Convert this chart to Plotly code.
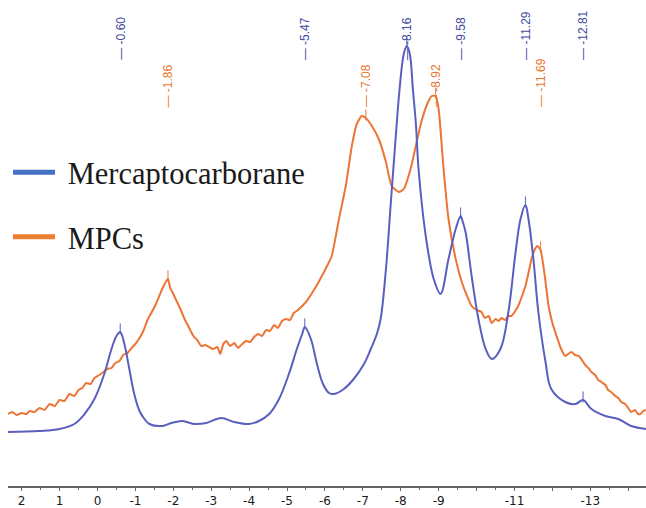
import numpy as np
import plotly.graph_objects as go

# ---- data (chemical shift in ppm, intensity in arbitrary units) ----
mc_ppm = [2.36, 1.53, 1.00, 0.61, 0.34, 0.08, -0.18, -0.37, -0.50, -0.60, -0.71, -0.84, -0.97,
          -1.11, -1.24, -1.37, -1.71, -1.95, -2.24, -2.55, -2.87, -3.26, -3.61, -4.00, -4.26,
          -4.53, -4.79, -5.05, -5.26, -5.40, -5.47, -5.63, -5.79, -5.95, -6.11, -6.24, -6.50,
          -6.76, -7.03, -7.21, -7.37, -7.47, -7.61, -7.74, -7.87, -7.97, -8.08, -8.16, -8.24,
          -8.32, -8.40, -8.47, -8.66, -8.87, -9.05, -9.26, -9.45, -9.58, -9.63, -9.71, -9.87,
          -10.05, -10.24, -10.40, -10.63, -10.84, -11.03, -11.16, -11.29, -11.37, -11.50,
          -11.63, -11.82, -11.97, -12.34, -12.61, -12.81, -13.03, -13.40, -13.74, -14.08, -14.47]
mc_int = [54, 55, 57, 62, 72, 87, 112, 137, 150, 154, 142, 117, 92,
          75, 67, 62, 60, 63, 65, 62, 63, 68, 64, 62, 65,
          72, 87, 112, 137, 152, 159, 147, 122, 102, 93, 92, 97,
          107, 122, 137, 152, 167, 217, 284, 350, 397, 432, 440, 432,
          397, 362, 317, 250, 207, 192, 227, 257, 270, 265, 254, 210,
          167, 137, 127, 137, 174, 234, 267, 281, 267, 227,
          174, 124, 97, 84, 82, 86, 77, 70, 67, 60, 57]

mpc_ppm = [2.36, 2.25, 2.13, 2.00, 1.87, 1.79, 1.66, 1.53, 1.40, 1.26, 1.13, 1.00, 0.87, 0.74,
           0.61, 0.50, 0.40, 0.30, 0.18, 0.08, -0.05, -0.16, -0.26, -0.37, -0.47, -0.58, -0.68,
           -0.79, -0.90, -1.00, -1.11, -1.21, -1.32, -1.42, -1.53, -1.63, -1.72, -1.80, -1.86,
           -1.92, -2.00, -2.10, -2.20, -2.31, -2.42, -2.53, -2.63, -2.74, -2.84, -2.95, -3.05,
           -3.16, -3.24, -3.32, -3.40, -3.50, -3.61, -3.71, -3.82, -3.92, -4.03, -4.13, -4.24,
           -4.34, -4.45, -4.55, -4.66, -4.76, -4.87, -4.97, -5.08, -5.18, -5.29, -5.40, -5.50,
           -5.61, -5.71, -5.82, -5.92, -6.03, -6.18, -6.37, -6.55, -6.71, -6.84, -6.97, -7.08,
           -7.24, -7.42, -7.61, -7.76, -7.95, -8.08, -8.26, -8.42, -8.55, -8.71, -8.82, -8.92,
           -9.00, -9.13, -9.26, -9.45, -9.61, -9.75, -9.87, -10.00, -10.13, -10.22, -10.32,
           -10.40, -10.50, -10.58, -10.66, -10.75, -10.84, -10.92, -11.02, -11.11, -11.20,
           -11.29, -11.37, -11.45, -11.53, -11.60, -11.69, -11.80, -11.90, -12.00, -12.11,
           -12.22, -12.34, -12.42, -12.50, -12.60, -12.70, -12.76, -12.87, -12.97, -13.03,
           -13.13, -13.21, -13.29, -13.40, -13.47, -13.55, -13.66, -13.74, -13.82, -13.92,
           -14.00, -14.08, -14.18, -14.26, -14.32, -14.40, -14.47]
mpc_int = [72, 74, 71, 73, 72, 75, 74, 78, 76, 82, 80, 86, 85, 92,
           90, 96, 98, 103, 102, 108, 111, 114, 117, 118, 123, 125, 131,
           133, 138, 142, 148, 155, 166, 173, 181, 190, 198, 204, 207,
           198, 192, 184, 176, 166, 158, 150, 146, 140, 141, 139, 137,
           139, 132, 142, 145, 140, 143, 138, 142, 145, 144, 149, 152,
           150, 156, 155, 161, 158, 165, 167, 166, 173, 176, 180, 184,
           190, 196, 203, 210, 218, 230, 267, 300, 340, 362, 370, 368,
           360, 347, 324, 300, 294, 297, 317, 344, 365, 383, 390, 390,
           377, 317, 267, 227, 204, 190, 180, 176, 174, 168, 170,
           163, 167, 165, 168, 166, 170, 170, 175, 181, 190,
           200, 213, 227, 236, 240, 236, 210, 180, 163, 150,
           138, 130, 132, 134, 131, 130, 127, 121, 117, 114,
           111, 106, 104, 101, 96, 94, 90, 88, 84, 82,
           78, 74, 76, 72, 72, 75, 76]

mc_peaks = [-0.60, -5.47, -8.16, -9.58, -11.29, -12.81]
mpc_peaks = [-1.86, -7.08, -8.92, -11.69]

tick_vals = list(range(2, -15, -1))
tick_text = [str(v) if v not in (-10, -12, -14) else "" for v in tick_vals]

# ---- styles ----
BLUE_LINE = "#5a5fbf"
ORANGE_LINE = "#ec7536"
BLUE_LEG = "#4472c4"
ORANGE_LEG = "#ed7d31"
BLUE_TXT = "#3f4a9e"
ORANGE_TXT = "#e8772e"


def peak_heights(px, py, peaks):
    x = np.array(px)[::-1]
    y = np.array(py)[::-1]
    return np.interp(peaks, x, y)


fig = go.Figure()
fig.add_trace(go.Scatter(x=mpc_ppm, y=mpc_int, mode="lines", showlegend=False,
                         line=dict(color=ORANGE_LINE, width=2, shape="spline", smoothing=0.5)))
fig.add_trace(go.Scatter(x=mc_ppm, y=mc_int, mode="lines", showlegend=False,
                         line=dict(color=BLUE_LINE, width=2, shape="spline", smoothing=1.0)))
# peak-pick ticks
fig.add_trace(go.Scatter(x=mc_peaks, y=peak_heights(mc_ppm, mc_int, mc_peaks) + 3,
                         mode="markers", showlegend=False,
                         marker=dict(symbol="line-ns-open", size=8, color=BLUE_LINE,
                                     line=dict(color=BLUE_LINE, width=1))))
fig.add_trace(go.Scatter(x=mpc_peaks, y=peak_heights(mpc_ppm, mpc_int, mpc_peaks) + 3,
                         mode="markers", showlegend=False,
                         marker=dict(symbol="line-ns-open", size=8, color=ORANGE_LINE,
                                     line=dict(color=ORANGE_LINE, width=1))))
# legend entries
fig.add_trace(go.Scatter(x=[None], y=[None], mode="lines", name=" Mercaptocarborane",
                         legendgroup="a", line=dict(color=BLUE_LEG, width=5)))
fig.add_trace(go.Scatter(x=[None], y=[None], mode="lines", name=" MPCs",
                         legendgroup="b", line=dict(color=ORANGE_LEG, width=5)))

annotations = []
for p in mc_peaks:
    annotations.append(dict(x=p, y=424, xref="x", yref="y", text="\u2014 %.2f" % p,
                            showarrow=False, textangle=-90, yanchor="bottom",
                            xanchor="center",
                            font=dict(family="Liberation Sans", size=12, color=BLUE_TXT)))
for p in mpc_peaks:
    annotations.append(dict(x=p, y=377, xref="x", yref="y", text="\u2014 %.2f" % p,
                            showarrow=False, textangle=-90, yanchor="bottom",
                            xanchor="center",
                            font=dict(family="Liberation Sans", size=12, color=ORANGE_TXT)))

fig.update_layout(
    width=646, height=508,
    margin=dict(l=8, r=0, t=0, b=22),
    paper_bgcolor="white", plot_bgcolor="white",
    annotations=annotations,
    legend=dict(x=0.0, y=0.70, xanchor="left", yanchor="top",
                font=dict(family="Liberation Serif", size=30.5, color="#1a1a1a"),
                itemwidth=42, tracegroupgap=22, bgcolor="rgba(0,0,0,0)"),
    xaxis=dict(range=[2.36, -14.47], tickmode="array", tickvals=tick_vals,
               ticktext=tick_text, showgrid=False, zeroline=False, automargin=False,
               showline=True, linecolor="#666666", linewidth=1.5,
               ticks="outside", ticklen=3, tickcolor="#666666",
               tickfont=dict(family="DejaVu Sans", size=12, color="#1a1a1a"),
               minor=dict(dtick=0.5, tick0=0, ticks="outside", ticklen=2,
                          tickcolor="#666666", showgrid=False)),
    yaxis=dict(range=[0, 486], visible=False, showgrid=False, zeroline=False),
)

fig.write_html("out.html", config={"displayModeBar": False},
               post_script="document.body.style.margin='0';document.body.style.overflow='hidden';")
